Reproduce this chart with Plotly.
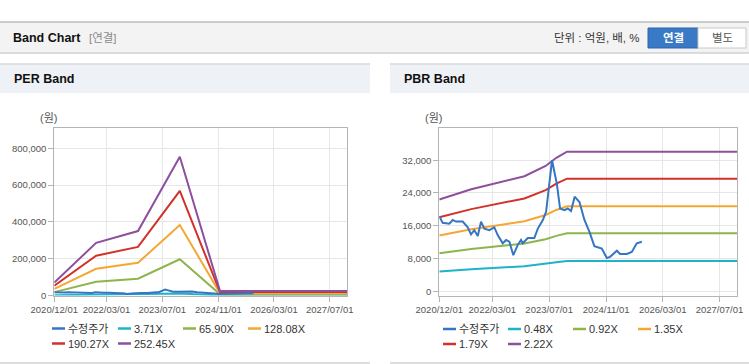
import plotly.graph_objects as go

W, H = 749, 364
FONT = "Arial, 'Liberation Sans', 'Noto Sans CJK KR', sans-serif"

# ---------------- data ----------------
price_dates = ["2020-12-01", "2020-12-30", "2021-02-25", "2021-03-26", "2021-04-23", "2021-06-20",
               "2021-08-02", "2021-08-30", "2021-09-27", "2021-10-27", "2021-11-24", "2021-12-22",
               "2022-02-03", "2022-03-18", "2022-04-16", "2022-05-29", "2022-06-27", "2022-07-25",
               "2022-08-28", "2022-10-05", "2022-11-02", "2022-11-17", "2022-12-30", "2023-02-24",
               "2023-03-26", "2023-05-08", "2023-06-05", "2023-07-03", "2023-07-26", "2023-08-15",
               "2023-09-05", "2023-10-03", "2023-11-09", "2023-12-08", "2024-01-05", "2024-02-05",
               "2024-03-17", "2024-04-29", "2024-06-11", "2024-07-23", "2024-09-25", "2024-11-07",
               "2024-12-05", "2025-02-01", "2025-03-01", "2025-04-28", "2025-06-09", "2025-07-22",
               "2025-09-03"]
price_vals = [18300, 16700, 16500, 17400, 17000, 17000,
              15600, 13900, 14900, 13500, 17000, 15300,
              14900, 15600, 13700, 11700, 12500, 12100,
              8800, 11300, 12500, 11700, 13000, 13000,
              15300, 17400, 19400, 26300, 32000, 29200,
              26300, 20200, 19800, 20200, 19600, 23100,
              21800, 17400, 14500, 11000, 10400, 8100,
              8400, 9900, 9100, 9100, 9600, 11700,
              12100]

per_dates = ["2020-12-01", "2021-12-01", "2022-12-01", "2023-12-01", "2024-11-15", "2027-12-01"]
per_names = ["3.71X", "65.90X", "128.08X", "190.27X", "252.45X"]
per_371 = [1000, 4200, 5100, 11100, 370, 370]
per_6590 = [18300, 74700, 91300, 197000, 6500, 6500]
per_12808 = [35500, 145000, 177500, 383000, 12700, 12700]
per_19027 = [53000, 216000, 264000, 568000, 19000, 19000]
per_25245 = [70000, 286000, 350000, 754000, 25000, 25000]

pbr_dates = ["2020-12-01", "2021-09-01", "2022-12-01", "2023-06-01", "2023-09-01", "2023-12-01", "2027-12-01"]
pbr_names = ["0.48X", "0.92X", "1.35X", "1.79X", "2.22X"]
pbr_048 = [4840, 5380, 6080, 6620, 7060, 7370, 7370]
pbr_092 = [9280, 10300, 11650, 12700, 13520, 14130, 14130]
pbr_135 = [13620, 15120, 17090, 18630, 19850, 20740, 20740]
pbr_179 = [18060, 20050, 22660, 24700, 26300, 27500, 27500]
pbr_222 = [22400, 24900, 28100, 30600, 32600, 34100, 34100]

x_tickvals = ["2020-12-01", "2022-03-01", "2023-07-01", "2024-11-01", "2026-03-01", "2027-07-01"]
x_ticktext = ["2020/12/01", "2022/03/01", "2023/07/01", "2024/11/01", "2026/03/01", "2027/07/01"]
price_name = "수정주가"

colors = ["#3476c3", "#1db3c9", "#8db54b", "#f5a733", "#d3322b", "#8d4f9e"]


def px(x):
    return x / W


def py(y):
    return 1 - y / H


fig = go.Figure()

per_series = [per_371, per_6590, per_12808, per_19027, per_25245]
for i, vals in enumerate(per_series):
    fig.add_trace(go.Scatter(x=per_dates, y=vals, mode="lines", name=per_names[i],
                             line=dict(color=colors[i + 1], width=2), xaxis="x", yaxis="y",
                             showlegend=False))
fig.add_trace(go.Scatter(x=price_dates, y=price_vals, mode="lines", name=price_name,
                         line=dict(color=colors[0], width=2), xaxis="x", yaxis="y", showlegend=False))

pbr_series = [pbr_048, pbr_092, pbr_135, pbr_179, pbr_222]
for i, vals in enumerate(pbr_series):
    fig.add_trace(go.Scatter(x=pbr_dates, y=vals, mode="lines", name=pbr_names[i],
                             line=dict(color=colors[i + 1], width=2), xaxis="x2", yaxis="y2",
                             showlegend=False))
fig.add_trace(go.Scatter(x=price_dates, y=price_vals, mode="lines", name=price_name,
                         line=dict(color=colors[0], width=2), xaxis="x2", yaxis="y2", showlegend=False))

axis_common = dict(showline=True, linecolor="#b4b4b4", linewidth=1, mirror=True,
                   showgrid=True, gridcolor="#e6e6e6", gridwidth=1, zeroline=False,
                   ticks="outside", ticklen=5, tickcolor="#b4b4b4", automargin=False,
                   tickfont=dict(family=FONT, size=9.5, color="#555555"))

xcommon = dict(axis_common, type="date", range=["2020-12-01", "2027-12-01"],
               tickmode="array", tickvals=x_tickvals, ticktext=x_ticktext, fixedrange=True)

shapes = []
annotations = []

# top header bar
shapes.append(dict(type="rect", xref="paper", yref="paper", x0=0, x1=1, y0=py(53), y1=py(22),
                   fillcolor="#f3f3f3", line=dict(width=0), layer="below"))
shapes.append(dict(type="line", xref="paper", yref="paper", x0=0, x1=1, y0=py(22), y1=py(22),
                   line=dict(color="#bdbdbd", width=1.5)))
shapes.append(dict(type="line", xref="paper", yref="paper", x0=0, x1=1, y0=py(53), y1=py(53),
                   line=dict(color="#d0d0d0", width=1.5)))
annotations.append(dict(text="<b>Band Chart</b>", xref="paper", yref="paper", x=px(11), y=py(38),
                        xanchor="left", yanchor="middle", showarrow=False,
                        font=dict(family=FONT, size=12.5, color="#111111")))
annotations.append(dict(text="[연결]", xref="paper", yref="paper", x=px(87), y=py(38),
                        xanchor="left", yanchor="middle", showarrow=False,
                        font=dict(family=FONT, size=11.5, color="#8a8a8a")))
annotations.append(dict(text="단위 : 억원, 배, %", xref="paper", yref="paper", x=px(642), y=py(38),
                        xanchor="right", yanchor="middle", showarrow=False,
                        font=dict(family=FONT, size=11.5, color="#333333")))
shapes.append(dict(type="rect", xref="paper", yref="paper", x0=px(648), x1=px(698), y0=py(48), y1=py(28),
                   fillcolor="#3a79c6", line=dict(color="#2d65aa", width=1)))
shapes.append(dict(type="rect", xref="paper", yref="paper", x0=px(698), x1=px(746), y0=py(48), y1=py(28),
                   fillcolor="#ffffff", line=dict(color="#c8c8c8", width=1)))
annotations.append(dict(text="<b>연결</b>", xref="paper", yref="paper", x=px(673), y=py(38),
                        xanchor="center", yanchor="middle", showarrow=False,
                        font=dict(family=FONT, size=11.5, color="#ffffff")))
annotations.append(dict(text="별도", xref="paper", yref="paper", x=px(722), y=py(38),
                        xanchor="center", yanchor="middle", showarrow=False,
                        font=dict(family=FONT, size=11.5, color="#555555")))

# panels
for (x0, x1, title, tx) in [(0, 370, "PER Band", 12), (390, 749, "PBR Band", 402)]:
    shapes.append(dict(type="rect", xref="paper", yref="paper", x0=px(x0), x1=px(x1), y0=py(93), y1=py(64),
                       fillcolor="#eef2f7", line=dict(width=0), layer="below"))
    shapes.append(dict(type="line", xref="paper", yref="paper", x0=px(x0), x1=px(x1), y0=py(64), y1=py(64),
                       line=dict(color="#d8d8d8", width=1.5)))
    shapes.append(dict(type="line", xref="paper", yref="paper", x0=px(x0), x1=px(x1), y0=py(363), y1=py(363),
                       line=dict(color="#d0d0d0", width=1.5)))
    annotations.append(dict(text="<b>" + title + "</b>", xref="paper", yref="paper", x=px(tx), y=py(79),
                            xanchor="left", yanchor="middle", showarrow=False,
                            font=dict(family=FONT, size=12.5, color="#111111")))

# unit labels
for cx in [49, 434]:
    annotations.append(dict(text="(원)", xref="paper", yref="paper", x=px(cx), y=py(118),
                            xanchor="center", yanchor="middle", showarrow=False,
                            font=dict(family=FONT, size=11, color="#555555")))

# custom legends
def add_legend(names, xs, rows):
    for k, name in enumerate(names):
        r = k // 4
        c = k % 4
        x0 = xs[c]
        yy = rows[r]
        shapes.append(dict(type="line", xref="paper", yref="paper", x0=px(x0), x1=px(x0 + 13),
                           y0=py(yy), y1=py(yy), line=dict(color=colors[k], width=2.5)))
        annotations.append(dict(text=name, xref="paper", yref="paper", x=px(x0 + 13.5), y=py(yy),
                                xanchor="left", yanchor="middle", showarrow=False,
                                font=dict(family=FONT, size=11, color="#333333")))


add_legend([price_name] + per_names, [52, 118, 183, 248], [328.5, 343.5])
add_legend([price_name] + pbr_names, [443, 508, 573, 638], [329, 344])

fig.update_layout(
    width=W, height=H,
    autosize=False,
    margin=dict(l=0, r=0, t=0, b=0, pad=0, autoexpand=False),
    paper_bgcolor="#ffffff", plot_bgcolor="#ffffff",
    showlegend=False,
    xaxis=dict(xcommon, domain=[px(54.3), px(347.3)], anchor="y"),
    yaxis=dict(axis_common, domain=[py(295.5), py(128)], anchor="x", range=[0, 910000],
               tickmode="array", tickvals=[0, 200000, 400000, 600000, 800000], tickformat=",",
               fixedrange=True),
    xaxis2=dict(xcommon, domain=[px(439.3), px(737.3)], anchor="y2"),
    yaxis2=dict(axis_common, domain=[py(295.5), py(128.3)], anchor="x2", range=[-1050, 39800],
                tickmode="array", tickvals=[0, 8000, 16000, 24000, 32000], tickformat=",",
                fixedrange=True),
    shapes=shapes,
    annotations=annotations,
    font=dict(family=FONT),
)

fig.write_html("out.html", config={"displayModeBar": False},
               post_script="document.body.style.margin='0';document.body.style.overflow='hidden';")
